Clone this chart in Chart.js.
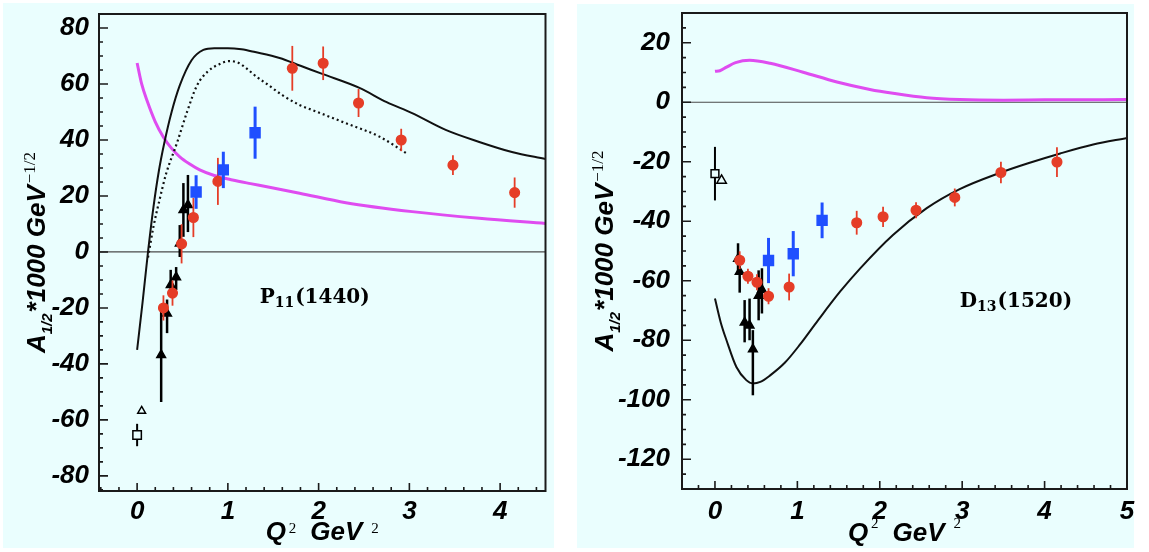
<!DOCTYPE html>
<html>
<head>
<meta charset="utf-8">
<script src="https://cdn.jsdelivr.net/npm/chart.js@4.4.1/dist/chart.umd.min.js"></script>
<style>
  body { margin: 0; background: #fff; width: 1149px; height: 552px; overflow: hidden; position: relative; }
  canvas { position: absolute; }
  #p11 { left: 3px; top: 3px; }
  #d13 { left: 577px; top: 4px; }
</style>
</head>
<body>
<canvas id="p11" width="551" height="545"></canvas>
<canvas id="d13" width="572" height="544"></canvas>
<script>
// ---- P11(1440) panel ----
const p11XTicks = [0, 1, 2, 3, 4];
const p11YTicks = [-80, -60, -40, -20, 0, 20, 40, 60, 80];

const p11SolidX = [0, 0.06, 0.12, 0.18, 0.24, 0.3, 0.38, 0.47, 0.6, 0.73, 0.85, 1.0, 1.15, 1.3, 1.57, 1.8, 2.04, 2.45, 2.75, 3.03, 3.4, 3.77, 4.13, 4.5];
const p11SolidY = [-35, -18, 0, 16, 29, 39, 50, 59.5, 68.5, 72.2, 72.8, 72.8, 72.4, 71.4, 69.3, 66.5, 63.6, 58.6, 53.5, 49.6, 43.6, 39.3, 35.7, 33.2];

const p11DotX = [0.12, 0.18, 0.25, 0.32, 0.44, 0.55, 0.66, 0.78, 0.9, 1.02, 1.12, 1.2, 1.32, 1.43, 1.6, 1.79, 1.93, 2.3, 2.67, 2.98];
const p11DotY = [-2, 9, 19, 28, 39, 50, 59.5, 64.5, 67, 68.2, 67.5, 65.7, 62.5, 60, 56, 52.5, 50.7, 46, 41.2, 35];

const p11MagX = [0, 0.05, 0.11, 0.2, 0.29, 0.38, 0.47, 0.58, 0.69, 0.85, 1.05, 1.25, 1.43, 1.79, 2.3, 3.03, 3.77, 4.5];
const p11MagY = [67.5, 60, 54, 46.5, 41, 37, 34, 31.4, 29.3, 27.3, 25.7, 24.4, 23.3, 21, 17.6, 14.4, 12, 10.2];

const p11RedX = [0.29, 0.39, 0.49, 0.62, 0.89, 1.71, 2.05, 2.44, 2.91, 3.48, 4.16];
const p11RedY = [-20, -14.7, 2.9, 12.3, 25.2, 65.6, 67.4, 53.2, 40, 31, 21.2];
const p11RedErr = [4.5, 4.5, 7, 7, 8.4, 8, 6, 5, 4, 3.5, 5.4];

const p11BlueX = [0.65, 0.95, 1.3];
const p11BlueY = [21.4, 29.3, 42.6];
const p11BlueErr = [6, 6.5, 9.3];

const p11TriX = [0.265, 0.33, 0.37, 0.43, 0.47, 0.51, 0.56];
const p11TriY = [-36.8, -22, -11.8, -9, 3, 15, 16.8];
const p11TriLo = [-53.6, -29, -16, -13.6, -1.8, 5.4, 7.1];
const p11TriHi = [-20, -17, -6.4, -5.4, 9.6, 24.6, 27.5];

const p11OpenSqX = [0], p11OpenSqY = [-65.4], p11OpenSqErr = [4];
const p11OpenTriX = [0.05], p11OpenTriY = [-56.8];

// ---- D13(1520) panel ----
const d13XTicks = [0, 1, 2, 3, 4, 5];
const d13YTicks = [-120, -100, -80, -60, -40, -20, 0, 20];

const d13SolidX = [0, 0.07, 0.14, 0.26, 0.38, 0.46, 0.55, 0.67, 0.85, 1.03, 1.25, 1.52, 1.76, 2.16, 2.57, 2.97, 3.47, 3.8, 4.19, 4.59, 5];
const d13SolidY = [-66, -74, -80, -89, -93.4, -94.5, -94, -91.8, -87.5, -81.5, -73.3, -63.6, -55.9, -44.6, -35.6, -29.2, -23.6, -20.5, -17.2, -14.2, -12];

const d13MagX = [0, 0.06, 0.14, 0.25, 0.42, 0.67, 1.07, 1.48, 1.88, 2.16, 2.57, 2.97, 3.5, 4, 5];
const d13MagY = [10.4, 10.6, 11.8, 13.3, 14.1, 13.1, 10.1, 6.8, 4.3, 3, 1.5, 0.9, 0.7, 0.8, 0.9];

const d13RedX = [0.30, 0.40, 0.51, 0.65, 0.9, 1.72, 2.04, 2.44, 2.91, 3.47, 4.15];
const d13RedY = [-53.1, -58.5, -60.5, -65.2, -62.1, -40.5, -38.5, -36.3, -32, -23.6, -20.1];
const d13RedErr = [3, 2.5, 2.7, 2.7, 4.5, 4, 3.4, 2.7, 3, 3.6, 5];

const d13BlueX = [0.65, 0.95, 1.3];
const d13BlueY = [-53.2, -50.9, -39.7];
const d13BlueErr = [7.6, 7.6, 6];

const d13TriX = [0.28, 0.3, 0.36, 0.42, 0.46, 0.53, 0.57];
const d13TriY = [-52.6, -57, -74, -75, -83, -65, -63];
const d13TriLo = [-57, -64, -80.7, -80, -98.5, -73.3, -71];
const d13TriHi = [-47.4, -55, -66.5, -66, -76.6, -56.5, -55.8];

const d13OpenSqX = [0], d13OpenSqY = [-24], d13OpenSqErr = [9];
const d13OpenTriX = [0.08], d13OpenTriY = [-26.3];

// ---- styling ----
const SANS = "'Liberation Sans', Arial, sans-serif";
const SERIF = "'Liberation Serif', serif";
const CM = "'DejaVu Serif', serif";
const BI = s => `italic bold ${s}px ${SANS}`;
const RED = '#e53d27', BLUE = '#1f4fff', MAGENTA = '#df4cf0', BG = '#eafefe';

const pts = (xs, ys) => xs.map((x, i) => ({ x, y: ys[i] }));
const lo = (ys, err) => ys.map((y, i) => y - err[i]);
const hi = (ys, err) => ys.map((y, i) => y + err[i]);

function curve(xs, ys, color, width, dash) {
    return { data: pts(xs, ys), showLine: true, borderColor: color, borderWidth: width, borderDash: dash || [],
        pointRadius: 0, cubicInterpolationMode: 'monotone', order: 10 };
}

function markers(xs, ys, errLo, errHi, style, radius, fill, line, barColor, barWidth, order) {
    return { data: pts(xs, ys), pointStyle: style, pointRadius: radius, backgroundColor: fill, borderColor: line,
        borderWidth: 1.5, errLo, errHi, barColor, barWidth, order };
}

// draw a run of text pieces (for sub/superscripts)
function drawParts(ctx, parts, x, y, center) {
    let w = 0;
    parts.forEach(p => { ctx.font = p.font; w += (p.gap || 0) + ctx.measureText(p.text).width; });
    let cx = center ? x - w / 2 : x;
    parts.forEach(p => {
        ctx.font = p.font;
        cx += p.gap || 0;
        ctx.fillText(p.text, cx, y + (p.dy || 0));
        cx += ctx.measureText(p.text).width;
    });
}

const yTitleParts = [
    { text: 'A', font: BI(26) },
    { text: '1/2', font: BI(15), dy: 7 },
    { text: '*1000 GeV', font: BI(26), gap: 1 },
    { text: '\u22121/2', font: `17px ${SERIF}`, dy: -10, gap: 2 }
];

function xTitleParts(supDy) {
    return [
        { text: 'Q', font: BI(26) },
        { text: '2', font: `15px ${SERIF}`, dy: supDy, gap: 3 },
        { text: 'GeV', font: BI(26), gap: 14 },
        { text: '2', font: `15px ${SERIF}`, dy: supDy, gap: 9 }
    ];
}

function stateLabel(letter, sub, mass) {
    return [
        { text: letter, font: `bold 20px ${CM}` },
        { text: sub, font: `bold 14px ${CM}`, dy: 4 },
        { text: mass, font: `bold 20px ${CM}`, gap: 1 }
    ];
}

const panelPlugin = {
    id: 'panel',
    beforeDraw(chart, args, o) {
        const ctx = chart.ctx;
        ctx.save();
        ctx.fillStyle = BG;
        ctx.fillRect(0, 0, o.bgWidth, chart.height);
        ctx.restore();
    },
    beforeDatasetsDraw(chart) {
        const { ctx, chartArea: a, scales: { y } } = chart;
        const y0 = y.getPixelForValue(0);
        ctx.save();
        ctx.strokeStyle = '#4a4a4a';
        ctx.lineWidth = 1.2;
        ctx.beginPath(); ctx.moveTo(a.left, y0); ctx.lineTo(a.right, y0); ctx.stroke();
        ctx.restore();
    },
    beforeDatasetDraw(chart, args) {
        const ds = chart.data.datasets[args.index];
        if (!ds.errLo) return;
        const { ctx, scales: { x, y } } = chart;
        ctx.save();
        ctx.strokeStyle = ds.barColor;
        ctx.lineWidth = ds.barWidth;
        ds.data.forEach((p, i) => {
            const px = x.getPixelForValue(p.x);
            ctx.beginPath();
            ctx.moveTo(px, y.getPixelForValue(ds.errLo[i]));
            ctx.lineTo(px, y.getPixelForValue(ds.errHi[i]));
            ctx.stroke();
        });
        ctx.restore();
    },
    afterDraw(chart, args, o) {
        const { ctx, chartArea: a, scales: { x, y } } = chart;
        ctx.save();
        // frame
        ctx.strokeStyle = '#1a1a1a';
        ctx.lineWidth = 2;
        ctx.strokeRect(a.left, a.top, a.width, a.height);
        // inward ticks, minor ones included
        ctx.lineWidth = 1.6;
        ctx.beginPath();
        for (let k = Math.ceil(y.min / 5); k <= Math.floor(y.max / 5); k++) {
            const py = y.getPixelForValue(k * 5);
            ctx.moveTo(a.left, py); ctx.lineTo(a.left + (k % 4 === 0 ? 9 : 4), py);
        }
        for (let k = Math.ceil(x.min / 0.2); k <= Math.floor(x.max / 0.2 + 1e-6); k++) {
            const px = x.getPixelForValue(k * 0.2);
            ctx.moveTo(px, a.bottom); ctx.lineTo(px, a.bottom - (k % 5 === 0 ? 8 : 4));
        }
        ctx.stroke();
        // axis titles
        ctx.fillStyle = '#000';
        ctx.textBaseline = 'alphabetic';
        drawParts(ctx, o.xTitle, (a.left + a.right) / 2, o.xTitleY, true);
        ctx.save();
        ctx.translate(o.yTitleX, (a.top + a.bottom) / 2);
        ctx.rotate(-Math.PI / 2);
        drawParts(ctx, yTitleParts, 0, 0, true);
        ctx.restore();
        // resonance label
        drawParts(ctx, o.label, x.getPixelForValue(o.labelAt[0]), y.getPixelForValue(o.labelAt[1]), false);
        ctx.restore();
    }
};

function makePanel(id, cfg) {
    new Chart(document.getElementById(id), {
        type: 'scatter',
        data: { datasets: cfg.datasets },
        options: {
            responsive: false,
            animation: false,
            layout: { padding: { left: 0, right: cfg.padRight, top: cfg.padTop, bottom: 0 } },
            plugins: {
                legend: { display: false },
                tooltip: { enabled: false },
                panel: cfg.panel
            },
            scales: {
                x: {
                    type: 'linear', min: cfg.xMin, max: cfg.xMax,
                    grid: { display: false, drawTicks: false },
                    border: { display: false },
                    afterBuildTicks: s => { s.ticks = cfg.xTicks.map(v => ({ value: v })); },
                    afterFit: s => { s.height = cfg.xHeight; s.paddingLeft = 0; s.paddingRight = 0; },
                    ticks: { color: '#000', padding: cfg.xPad, font: { family: SANS, size: 26, style: 'italic', weight: 'bold' },
                        callback: v => String(v), maxRotation: 0, autoSkip: false }
                },
                y: {
                    type: 'linear', min: cfg.yMin, max: cfg.yMax,
                    grid: { display: false, drawTicks: false },
                    border: { display: false },
                    afterBuildTicks: s => { s.ticks = cfg.yTicks.map(v => ({ value: v })); },
                    afterFit: s => { s.width = cfg.yWidth; s.paddingTop = 0; s.paddingBottom = 0; },
                    ticks: { color: '#000', padding: cfg.yPad, font: { family: SANS, size: 26, style: 'italic', weight: 'bold' },
                        callback: v => String(v), autoSkip: false }
                }
            }
        },
        plugins: [panelPlugin]
    });
}

makePanel('p11', {
    xMin: -0.42, xMax: 4.5, yMin: -85.4, yMax: 85,
    xTicks: p11XTicks, yTicks: p11YTicks,
    padRight: 7, padTop: 11, xHeight: 57, yWidth: 96, xPad: 5, yPad: 10,
    datasets: [
        curve(p11SolidX, p11SolidY, '#111', 2),
        curve(p11DotX, p11DotY, '#111', 2.2, [2, 3]),
        curve(p11MagX, p11MagY, MAGENTA, 3),
        markers(p11TriX, p11TriY, p11TriLo, p11TriHi, 'triangle', 5, '#000', '#000', '#000', 2.5, 5),
        markers(p11RedX, p11RedY, lo(p11RedY, p11RedErr), hi(p11RedY, p11RedErr), 'circle', 4.8, RED, RED, RED, 1.8, 4),
        markers(p11BlueX, p11BlueY, lo(p11BlueY, p11BlueErr), hi(p11BlueY, p11BlueErr), 'rect', 7, BLUE, BLUE, BLUE, 3, 3),
        markers(p11OpenSqX, p11OpenSqY, lo(p11OpenSqY, p11OpenSqErr), hi(p11OpenSqY, p11OpenSqErr), 'rect', 6, BG, '#000', '#000', 2, 2),
        markers(p11OpenTriX, p11OpenTriY, null, null, 'triangle', 4.5, BG, '#000', '#000', 1.5, 2)
    ],
    panel: { bgWidth: 551, xTitle: xTitleParts(-7), xTitleY: 537, yTitleX: 42,
        label: stateLabel('P', '11', '(1440)'), labelAt: [1.35, -18.2] }
});

makePanel('d13', {
    xMin: -0.4, xMax: 5, yMin: -130, yMax: 30,
    xTicks: d13XTicks, yTicks: d13YTicks,
    padRight: 22, padTop: 9, xHeight: 59, yWidth: 105, xPad: 7, yPad: 12,
    datasets: [
        curve(d13SolidX, d13SolidY, '#111', 2),
        curve(d13MagX, d13MagY, MAGENTA, 3),
        markers(d13TriX, d13TriY, d13TriLo, d13TriHi, 'triangle', 5, '#000', '#000', '#000', 2.5, 5),
        markers(d13RedX, d13RedY, lo(d13RedY, d13RedErr), hi(d13RedY, d13RedErr), 'circle', 4.8, RED, RED, RED, 1.8, 4),
        markers(d13BlueX, d13BlueY, lo(d13BlueY, d13BlueErr), hi(d13BlueY, d13BlueErr), 'rect', 7, BLUE, BLUE, BLUE, 3, 3),
        markers(d13OpenSqX, d13OpenSqY, lo(d13OpenSqY, d13OpenSqErr), hi(d13OpenSqY, d13OpenSqErr), 'rect', 5.5, BG, '#000', '#000', 2, 2),
        markers(d13OpenTriX, d13OpenTriY, null, null, 'triangle', 5.5, BG, '#000', '#000', 1.5, 2)
    ],
    panel: { bgWidth: 557, xTitle: xTitleParts(-13), xTitleY: 537, yTitleX: 36,
        label: stateLabel('D', '13', '(1520)'), labelAt: [2.97, -68.9] }
});
</script>
</body>
</html>
